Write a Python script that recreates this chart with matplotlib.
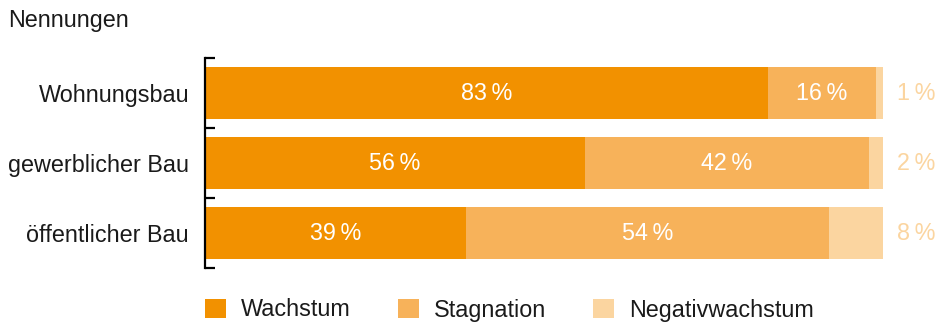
import matplotlib
matplotlib.use("Agg")
import matplotlib.pyplot as plt
from matplotlib.patches import Patch
import numpy as np

plt.rcParams['font.family'] = ['Liberation Sans', 'DejaVu Sans']

categories = ["Wohnungsbau", "gewerblicher Bau", "öffentlicher Bau"]
series_names = ["Wachstum", "Stagnation", "Negativwachstum"]
wachstum = [83, 56, 38.5]
stagnation = [16, 42, 53.5]
negativ = [1, 2, 8]
wachstum_labels = ["83", "56", "39"]
stagnation_labels = ["16", "42", "54"]
negativ_labels = ["1", "2", "8"]
colors = ["#F29100", "#F7B25A", "#FBD5A0"]

FS = 16.8

fig = plt.figure(figsize=(9.35, 3.24), dpi=100)
ax = fig.add_axes([205/935, (324-268)/324, 678/935, 210/324])

y = np.arange(len(categories))
left = np.zeros(len(categories))
all_series = [wachstum, stagnation, negativ]
all_labels = [wachstum_labels, stagnation_labels, negativ_labels]
for i, (vals, labs, c) in enumerate(zip(all_series, all_labels, colors)):
    ax.barh(y, vals, left=left, height=0.75, color=c, label=series_names[i])
    for yi, v, l, t in zip(y, vals, left, labs):
        if i < 2:
            ax.text(l + v/2, yi, f"{t}\u2009%", ha='center', va='center',
                    color='white', fontsize=FS)
        else:
            ax.text(104.9, yi, f"{t}\u2009%", ha='center', va='center',
                    color=c, fontsize=FS, clip_on=False)
    left = left + np.array(vals)

ax.set_xlim(0, 100)
ax.set_ylim(2.5, -0.5)
ax.set_yticks(y)
ax.set_yticklabels(categories, fontsize=FS, color='#1a1a1a')
ax.set_yticks([-0.5, 0.5, 1.5, 2.5], minor=True)
ax.tick_params(axis='y', which='major', length=0, pad=11.5)
ax.tick_params(axis='y', which='minor', length=7, width=1.6, direction='in', color='black')
ax.set_xticks([])
for s in ['top', 'right', 'bottom']:
    ax.spines[s].set_visible(False)
ax.spines['left'].set_linewidth(1.6)
ax.spines['left'].set_color('black')

fig.text(8/935, 1 - 20/324, "Nennungen", ha='left', va='center', fontsize=FS, color='#1a1a1a')

handles = [Patch(facecolor=c, edgecolor='none', label=n) for c, n in zip(colors, series_names)]
leg = fig.legend(handles=handles, loc='center left', bbox_to_anchor=(205/935, 1 - 310/324),
           ncol=3, frameon=False, fontsize=FS, handlelength=0.9, handleheight=0.9,
           handletextpad=0.65, columnspacing=2.0, borderpad=0, borderaxespad=0)
for t in leg.get_texts():
    t.set_color('#1a1a1a')

fig.savefig("out.png", dpi=100)
